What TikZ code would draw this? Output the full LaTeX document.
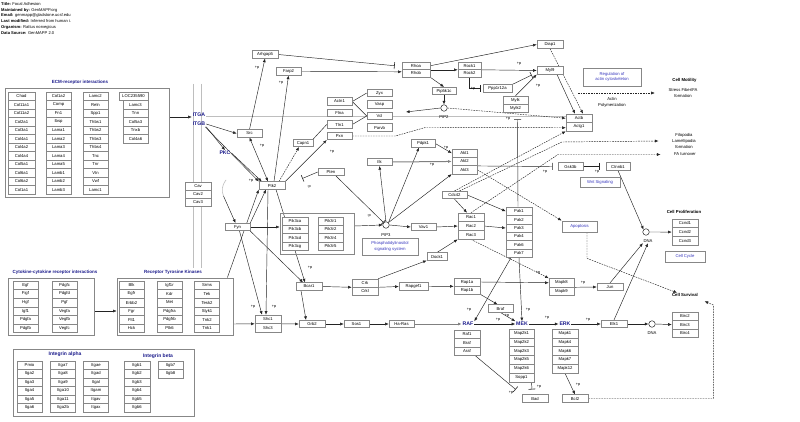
\documentclass[tikz,border=0pt]{standalone}
\usepackage{fontspec}
\setmainfont{Liberation Sans}
\usetikzlibrary{arrows.meta}
\pgfdeclarelayer{bg}
\pgfdeclarelayer{paper}
\pgfsetlayers{paper,bg,main}
\definecolor{lbl}{RGB}{28,28,140}
\definecolor{pw}{RGB}{55,55,190}
\definecolor{lnc}{RGB}{35,35,35}
\definecolor{bd}{RGB}{135,135,135}
\definecolor{mem}{RGB}{190,190,190}
\newcommand{\gstack}[6]{\foreach \gname [count=\gi] in {#6} {\node[gb,minimum width=#4,minimum height=#5] (#1-\gi) at (#2,{#3+(\gi-0.5)*#5}) {\gname};}}
\begin{document}
\begin{tikzpicture}[x=1pt,y=-1pt,
  gb/.style={draw=bd,line width=0.6pt,fill=white,minimum width=26,minimum height=7.5,inner sep=0pt,font=\fontsize{4.2}{4.5}\selectfont},
  grp/.style={draw=bd,line width=0.7pt,inner sep=0pt},
  pwb/.style={draw=bd,line width=0.8pt,fill=white,inner sep=0pt,align=center,text=pw,font=\fontsize{4.2}{5.6}\selectfont},
  ttl/.style={inner sep=0.5pt,text=lbl,font=\fontsize{4.5}{5}\selectfont\bfseries},
  big/.style={inner sep=0.8pt,text=lbl,font=\fontsize{5.2}{6}\selectfont\bfseries},
  hdr/.style={anchor=west,inner sep=0pt,font=\fontsize{4.1}{4.5}\selectfont},
  txt/.style={inner sep=0.5pt,align=center,font=\fontsize{4.2}{6}\selectfont},
  btxt/.style={inner sep=0.5pt,font=\fontsize{4.3}{5}\selectfont\bfseries},
  pp/.style={inner sep=0pt,font=\fontsize{3.8}{4}\selectfont},
  circ/.style={circle,draw=lnc,line width=0.5pt,fill=white,minimum size=6.5,inner sep=0pt},
  con/.style={draw=lnc,line width=0.45pt},
  arr/.style={con,-{Latex[length=3.6pt,width=3pt]}},
  arrb/.style={con,{Latex[length=3.6pt,width=3pt]}-{Latex[length=3.6pt,width=3pt]}},
  inh/.style={con,-{Bar[width=7pt,line width=0.6pt]}},
  dsh/.style={dash pattern=on 1.6pt off 1pt},
  memb/.style={draw=mem,line width=0.6pt},
]
\begin{pgfonlayer}{paper}
\fill[white] (0,0) rectangle (800,422);
\end{pgfonlayer}
\useasboundingbox (0,0) rectangle (800,422);

% header
\node[hdr] (hd1) at (1,4) {\textbf{Title:} Focal Adhesion};
\node[hdr] (hd2) at (1,10) {\textbf{Maintained by:} GenMAPP.org};
\node[hdr] (hd3) at (1,15.5) {\textbf{Email:} genmapp@gladstone.ucsf.edu};
\node[hdr] (hd4) at (1,21) {\textbf{Last modified:} Inferred from human i.};
\node[hdr] (hd5) at (1,27) {\textbf{Organism:} Rattus norvegicus};
\node[hdr] (hd6) at (1,33) {\textbf{Data Source:} GenMAPP 2.0};

% ECM
\node[ttl] (ecmt) at (80,82) {ECM-receptor interactions};
\node[grp,minimum width=164,minimum height=109] (ecm) at (87,142.5) {};
\gstack{ea}{21.5}{92}{27}{8.5}{Chad,Col11a1,Col11a2,Col2a1,Col3a1,Col4a1,Col4a2,Col4a4,Col5a1,Col6a1,Col6a2,Col1a1}
\gstack{eb}{58.5}{92}{25}{8.5}{Col1a2,Comp,Fn1,Ibsp,Lama1,Lama2,Lama3,Lama4,Lama5,Lamb1,Lamb2,Lamb3}
\gstack{ec}{95.5}{92}{25}{8.5}{Lamc2,Reln,Spp1,Thbs1,Thbs2,Thbs3,Thbs4,Tnc,Tnr,Vtn,Vwf,Lamc1}
\node[gb,minimum width=29,minimum height=8.5] (loc) at (133.5,96.25) {LOC235590};
\gstack{ed}{135.5}{100.5}{25}{8.5}{Lamc3,Tnn,Col5a3,Tnxb,Col4a6}

% cytokine, RTK
\node[ttl] (cytt) at (55,272) {Cytokine-cytokine receptor interactions};
\node[grp,minimum width=86,minimum height=57] (cyt) at (51,306.5) {};
\gstack{ca}{25.5}{281}{25}{8.6}{Egf,Figf,Hgf,Igf1,Pdgfa,Pdgfb}
\gstack{cb}{64.5}{281}{25}{8.6}{Pdgfc,Pdgfd,Pgf,Vegfa,Vegfb,Vegfc}
\node[ttl] (rtkt) at (173,272) {Receptor Tyrosine Kinases};
\node[grp,minimum width=116,minimum height=57] (rtk) at (175,306.5) {};
\gstack{ra}{131.5}{281}{25}{8.6}{Blk,Egfr,Erbb2,Fgr,Flt1,Hck}
\gstack{rb}{169.5}{281}{25}{8.6}{Igf1r,Kdr,Met,Pdgfra,Pdgfrb,Ptk6}
\gstack{rc}{207}{281}{25}{8.6}{Srms,Tek,Tesk2,Styk1,Tnk2,Tnk1}

% integrins
\node[grp,minimum width=181,minimum height=67] (integ) at (103.5,382.5) {};
\node[ttl,font=\fontsize{5}{6}\selectfont\bfseries] (iat) at (65,354) {Integrin alpha};
\node[ttl,font=\fontsize{5}{6}\selectfont\bfseries] (ibt) at (158,356) {Integrin beta};
\gstack{ia}{29.5}{361}{25}{8.5}{Pmio,Itga2,Itga3,Itga4,Itga5,Itga6}
\gstack{ib}{63}{361}{25}{8.5}{Itga7,Itga8,Itga9,Itga10,Itga11,Itga2b}
\gstack{ic}{96}{361}{25}{8.5}{Itgae,Itgad,Itgal,Itgam,Itgav,Itgax}
\gstack{id}{137}{361}{26}{8.5}{Itgb1,Itgb2,Itgb3,Itgb4,Itgb5,Itgb6}
\gstack{ie}{170.5}{361}{25}{8.5}{Itgb7,Itgb8}

% membrane receptors
\node[big] (itga) at (199,115) {ITGA};
\node[big] (itgb) at (199,124) {ITGB};
\node[big] (pkc) at (225,153) {PKC};
\gstack{cav}{198}{182.5}{26}{8}{Cav,Cav2,Cav3}

% upper cytoskeleton
\node[gb] (arhgap5) at (265,54.5) {Arhgap5};
\node[gb,minimum width=25] (farp2) at (288.5,71.5) {Farp2};
\node[gb,minimum width=25] (src) at (249.5,133.5) {Src};
\node[gb,minimum width=25] (actn1) at (339.5,101.5) {Actn1};
\node[gb,minimum width=25] (flna) at (339.5,113) {Flna};
\node[gb,minimum width=25] (tln1) at (339.5,124.5) {Tln1};
\node[gb,minimum width=25] (pxn) at (339.5,136) {Pxn};
\node[gb,minimum width=25] (zyx) at (379.5,93) {Zyx};
\node[gb,minimum width=25] (vasp) at (379.5,104.5) {Vasp};
\node[gb,minimum width=25] (vcl) at (379.5,116) {Vcl};
\node[gb,minimum width=25] (parvb) at (379.5,127.5) {Parvb};
\node[gb,minimum width=20] (capn1) at (303,143) {Capn1};
\gstack{rho}{416}{62}{28}{7.5}{Rhoa,Rhob}
\gstack{rock}{469.5}{62}{23}{7.5}{Rock1,Rock2}
\node[gb] (diap1) at (550,44.5) {Diap1};
\node[gb] (myl9) at (550,70.5) {Myl9};
\node[gb,minimum width=29] (ppp1r12a) at (497.5,88.5) {Ppp1r12a};
\node[gb,minimum width=24] (pip5k1c) at (444,91) {Pip5k1c};
\node[circ] (pip2) at (444,108) {};
\node[txt] (pip2l) at (444,117) {PIP2};
\coordinate (pip2out) at (406,112);
\gstack{mylk}{515.5}{96}{25}{8}{Mylk,Mylk2}
\gstack{act}{579}{114}{26}{8.5}{Actb,Actg1}
\node[pwb,minimum width=58,minimum height=18] (reg) at (612,77) {Regulation of\\actin cytoskeleton};
\node[btxt] (cmot) at (684.5,80) {Cell Motility};
\node[txt] (sf) at (683,93) {Stress Fiber/FA\\formation};
\node[txt] (actpol) at (612,102) {Actin\\Polymerization};
\node[txt] (filo) at (684,141) {Filopodia\\Lamellipodia\\formation};
\node[txt] (fat) at (685,154.5) {FA turnover};
\coordinate (sfstart) at (578,93);

% middle
\node[gb,minimum width=24] (pdpk1) at (423,143.5) {Pdpk1};
\gstack{akt}{464.5}{149}{25}{8.3}{Akt1,Akt2,Akt3}
\node[gb,minimum width=25] (ilk) at (379.5,162) {Ilk};
\node[gb] (pten) at (331,172) {Pten};
\node[gb] (ptk2) at (272,185.5) {Ptk2};
\node[gb,minimum width=25] (gsk3b) at (570.5,166.5) {Gsk3b};
\node[gb,minimum width=24] (ctnnb1) at (618,166.5) {Ctnnb1};
\node[pwb,minimum width=40,minimum height=10] (wnt) at (600,182) {Wnt Signaling};
\node[gb,minimum width=25] (cdc42) at (454.5,195) {Cdc42};
\gstack{rac}{471}{213}{26}{8.7}{Rac1,Rac2,Rac3}
\gstack{pak}{519}{207}{26}{8.4}{Pak1,Pak2,Pak3,Pak4,Pak6,Pak7}
\node[gb,minimum width=25] (vav1) at (423.5,227) {Vav1};
\node[gb,minimum width=20] (dock1) at (437,256.5) {Dock1};
\node[pwb,minimum width=35,minimum height=11] (apop) at (579.5,226.5) {Apoptosis};
\node[circ] (pip3) at (386,225) {};
\node[txt] (pip3l) at (386,235) {PIP3};
\node[pwb,minimum width=56,minimum height=17] (phos) at (390,246.5) {Phosphatidylinositol\\signaling system};
\node[grp,minimum width=74,minimum height=41] (pi3k) at (317,233.5) {};
\gstack{pa}{295}{217}{26}{8.3}{Pik3ca,Pik3cb,Pik3cd,Pik3cg}
\gstack{pb}{330.5}{217}{25}{8.3}{Pik3r1,Pik3r2,Pik3r4,Pik3r5}
\node[gb,minimum width=25] (fyn) at (237.5,227) {Fyn};
\coordinate (brk) at (223.5,196);
\node[circ] (dna1) at (646,232) {};
\node[txt] (dna1l) at (648,241) {DNA};
\node[btxt] (cprol) at (684,212) {Cell Proliferation};
\gstack{ccnd}{685}{219}{26}{8.7}{Ccnd1,Ccnd2,Ccnd3}
\node[pwb,minimum width=40,minimum height=11] (ccyc) at (685,256.5) {Cell Cycle};

% lower
\gstack{crk}{365}{279}{26}{8}{Crk,Crkl}
\node[gb] (bcar1) at (309,286.5) {Bcar1};
\node[gb,minimum width=29] (rapgef1) at (413.5,286.5) {Rapgef1};
\gstack{rap}{467}{278}{26}{8}{Rap1a,Rap1b}
\gstack{mapk8}{561.5}{278.5}{25}{8.5}{Mapk8,Mapk9}
\node[gb] (jun) at (610,287) {Jun};
\node[btxt] (csurv) at (685,295) {Cell Survival};
\node[gb,minimum width=25] (braf2) at (500.5,308.5) {Braf};
\gstack{shc}{268}{315}{26}{8.5}{Shc1,Shc3}
\node[gb] (grb2) at (312,324) {Grb2};
\node[gb,minimum width=25] (sos1) at (356.5,324) {Sos1};
\node[gb,minimum width=25] (hras) at (401.5,324) {Ha-Ras};
\node[big] (raflbl) at (468,324) {RAF};
\node[big] (meklbl) at (522,324) {MEK};
\node[big] (erklbl) at (565,324) {ERK};
\gstack{raf}{467}{330}{26}{8.4}{Raf1,Braf,Araf}
\gstack{mek}{521.5}{329}{25}{8.8}{Map2k1,Map2k2,Map2k3,Map2k5,Map2k6,Sopp1}
\gstack{erk}{565}{329}{26}{8.8}{Mapk1,Mapk4,Mapk6,Mapk7,Mapk12}
\node[gb] (elk1) at (614,324) {Elk1};
\node[circ] (dna2) at (652,324) {};
\node[txt] (dna2l) at (652,333) {DNA};
\gstack{birc}{685}{312}{26}{8.4}{Birc2,Birc3,Birc4}
\node[gb] (bad) at (535,398.5) {Bad};
\node[gb] (bcl2) at (575,398.5) {Bcl2};

% +p labels
\foreach \px/\py/\pt in {257/68/+p,281/83/+p,262/146/+p,251/181/+p,332/152/+p,309/187/-p,369/216/-p,310/268/+p,253/307/+p,274/307/+p,446/148/+p,432/165/+p,545/172/+p,597/172/+p,519/64/+p,473/89/+p,538/86/+p,508/119/+p,538/273/+p,583/283/+p,469/310/+p,507/316/+p,528/310/+p,498/320/+p,547/318/+p,588/320/+p,578/385/+p,511/393/+p,539/387/+p}
  \node[pp] at (\px,\py) {\pt};

\begin{pgfonlayer}{bg}
% membrane
\draw[memb] (193,84) -- (193,268);
\draw[memb] (201,84) -- (201,268);
\draw[memb] ([yshift=-1pt]itga.east) -- ([yshift=2.25pt]act-1.west);
\draw[memb] (226,180) .. controls (221.5,186) and (221.5,191) .. (brk);
% receptors
\draw[arr] ([yshift=25.5pt]ecm.east) -- ([yshift=-2pt]itga.west);
\draw[arr] ([yshift=-4.5pt]cyt.east) -- ([yshift=-4.5pt]rtk.west);
\draw[arr] (itgb.east) -- (src.west);
\draw[arr] (itgb.south east) -- (pkc.north);
\draw[arr] ([xshift=-1pt]itgb.south east) -- (ptk2.north west);
\draw[arr] (pkc.east) -- ([xshift=3pt]ptk2.north west);
\draw[arrb] (src.south) -- ([xshift=-4pt]ptk2.north);
\draw[arr] (src.north) -- (arhgap5.south);
\draw[arr] ([xshift=2pt]ptk2.north) -- (farp2.south);
\draw[arr,dsh] ([xshift=7pt]ptk2.north) -- ([xshift=-4pt]capn1.south);
\draw[arr] (ptk2.north east) -- (pxn.south west);
\draw[con] (capn1.north east) -- (tln1.west);
\draw[con] (actn1.east) -- (zyx.west);
\draw[con] (actn1.east) -- (vcl.west);
\draw[con] (tln1.east) -- (vcl.west);
\draw[inh] (pten.west) -- ([xshift=17pt,yshift=7pt]ptk2.east);
\draw[inh] ([xshift=5pt]pten.south) -- (pip3.north west);
\draw[arr] ([yshift=7.5pt]pi3k.east) -- (pip3.west);
\draw[arr] (pip3.north) -- (ilk.south);
\draw[arr] (pip3.north east) -- ([xshift=-4pt]pdpk1.south);
\draw[arr] (pip3.north east) -- (akt-3.south west);
\draw[arr] (pip3.east) -- (vav1.west);
\draw[arr,line width=1pt,draw=gray] (ilk.east) -- (akt-2.west);
\draw[arr] (pdpk1.east) -- (akt-1.west);
\draw[inh] ([yshift=-4.5pt]akt-2.east) -- ([xshift=-5pt]gsk3b.west);
\draw[inh] (gsk3b.east) -- ([xshift=-6pt]ctnnb1.west);
\draw[arr] (ctnnb1.south) -- (dna1.north west);
\draw[arr] (dna1.east) -- (ccnd-2.west);
\draw[arr,dsh] (akt-3.east) -- (apop.north west);
\draw[arr] (cdc42.south) -- ([xshift=-4pt]rac-1.north);
\draw[arr] (cdc42.east) -- (pak-1.west);
\draw[arr] (vav1.east) -- (rac-2.west);
\draw[arr] (dock1.north) -- (rac-3.south west);
\draw[arr] (rac-2.east) -- (pak-3.west);
\draw[arr] (crk-1.north east) -- (dock1.south west);
\draw[arr] (bcar1.east) -- (crk-1.south west);
\draw[arr] (crk-1.south east) -- (rapgef1.west);
\draw[arr] (rapgef1.east) -- (rap-1.south west);
\draw[arr] (rap-1.east) -- (mapk8-1.west);
\draw[arr] (rap-2.south east) -- ([xshift=-3pt]braf2.north);
\draw[arr] (braf2.south) -- (meklbl.north west);
\draw[arr] ([xshift=-8pt]pak-6.south) -- (raflbl.north east);
\draw[arr] (pak-6.south) -- (meklbl.north);
\draw[inh] ([xshift=-1pt]pak-1.north) -- ([xshift=2pt,yshift=-7pt]mylk-2.south);
\draw[arr,dsh] (rac-3.south) -- (mapk8-1.north west);
\draw[arr] (mapk8-1.south east) -- (jun.west);
\draw[arr] (jun.north) -- (dna1l.south west);
\draw[arr] (elk1.north) -- (dna1l.south);
\draw[arr] (erklbl.east) -- (elk1.west);
\draw[arr] (elk1.east) -- (dna2.west);
\draw[arr] (dna2.east) -- (birc-2.west);
\draw[arr] (raflbl.east) -- (meklbl.west);
\draw[arr] (meklbl.east) -- (erklbl.west);
\draw[arr,line width=1pt,draw=gray] (hras.east) -- (raflbl.west);
\draw[arr] (sos1.east) -- (hras.west);
\draw[arr] (grb2.east) -- (sos1.west);
\draw[arr] (shc-1.south east) -- (grb2.west);
\draw[arr] ([yshift=-17.5pt]rtk.east) -- (shc-1.south west);
\draw[arr] ([xshift=-8pt]bcar1.south) -- ([xshift=-6pt]grb2.north);
\draw[arr] (erk-5.south) -- (bcl2.north);
\draw[inh] ([xshift=8pt]raf-3.south) -- ([xshift=-6pt,yshift=5pt]bad.north west);
\draw[inh] ([xshift=10pt]mek-6.south) -- ([xshift=-3pt,yshift=5pt]bad.north);
\draw[arr,dsh] (bcl2.east) -- ++(125,0) -- ++(0,-93.5) -- ([xshift=6pt,yshift=-4pt]csurv.south east);
\draw[arr,dsh] ([xshift=7.5pt]apop.south) -- ++(0,26) -- ([xshift=-8pt]csurv.north);
\draw[arr] (brk) -- ([xshift=-2pt]fyn.north);
\draw[arr] (fyn.north east) -- ([xshift=-6pt]ptk2.south);
\draw[arr] ([xshift=-6pt]rtk.north east) -- (ptk2.south west);
\draw[arr] (fyn.east) -- ([yshift=6.5pt]pi3k.west);
\draw[arr] ([xshift=2pt]fyn.south) -- ([xshift=-6pt]shc-1.north);
\draw[arr] ([xshift=-4pt]ptk2.south) -- ([xshift=-2pt]shc-1.north);
\draw[arr] ([xshift=4pt]ptk2.south) -- ([xshift=-4pt]bcar1.north);
\draw[arr] (fyn.south east) -- ([xshift=-6pt]bcar1.north);
% rho / actin
\draw[inh] (arhgap5.east) -- ([xshift=-7pt]rho-1.west);
\draw[arr] (farp2.east) -- ([yshift=-2pt]rho-1.south west);
\draw[arr] (rho-1.east) -- (diap1.west);
\draw[arr] (rho-1.south east) -- (rock-1.south west);
\draw[arr] (rho-2.south east) -- (pip5k1c.north);
\draw[arr] (pip5k1c.south) -- (pip2.north);
\draw[arr] (pip2.west) -- (pip2out);
\draw[arr,dsh] (pip2.east) -- (act-1.west);
\draw[arr] (rock-1.south east) -- (myl9.west);
\draw[inh] (rock-2.south) |- ([xshift=-2pt]ppp1r12a.west);
\draw[inh] (ppp1r12a.north east) -- ([xshift=-5pt,yshift=-4.5pt]myl9.west);
\draw[arr] (mylk-1.north) -- (myl9.south west);
\draw[arr] ([xshift=7pt]myl9.south) -- ([xshift=-4pt]act-1.north);
\draw[arr,dsh] (diap1.south) -- ([xshift=4pt]act-1.north);
\draw[arr,dsh] (pxn.east) -- ++(43,0) -- ++(30,-8.5) -- ([yshift=-1pt]act-2.west);
\draw[arr,dsh] (cdc42.north) -- (act-2.south west);
\draw[arr,dsh] ([xshift=5pt]cdc42.north) -- (562,142) -- ([xshift=-13pt]filo.west);
\draw[arr,dsh] (rac-1.north) -- (558,154.5) -- ([xshift=-13pt]fat.west);
\draw[arr,dsh] (sfstart) -- ([xshift=-13pt]sf.west);
\end{pgfonlayer}
\end{tikzpicture}
\end{document}
